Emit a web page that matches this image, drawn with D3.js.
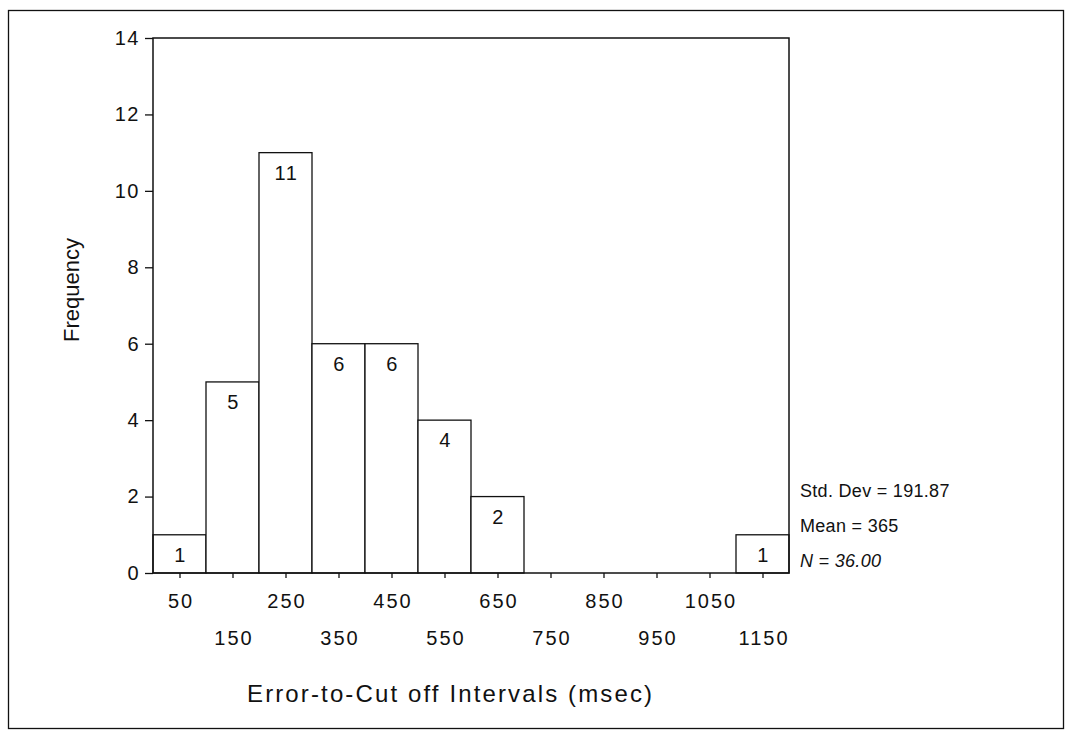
<!DOCTYPE html>
<html>
<head>
<meta charset="utf-8">
<script src="https://cdn.jsdelivr.net/npm/d3@7"></script>
<style>
  body { margin: 0; background: #fff; }
  text { font-family: Arial, "Liberation Sans", sans-serif; fill: #111; }
</style>
</head>
<body>
<div id="chart"></div>
<script>
// Histogram bins (lower edge) and counts
let binStarts = [0, 100, 200, 300, 400, 500, 600, 700, 800, 900, 1000, 1100];
let binWidth = 100;
let counts = [1, 5, 11, 6, 6, 4, 2, 0, 0, 0, 0, 1];
let xTicks = [50, 150, 250, 350, 450, 550, 650, 750, 850, 950, 1050, 1150];
let yTicks = [0, 2, 4, 6, 8, 10, 12, 14];
let statLines = ["Std. Dev = 191.87", "Mean = 365", "N = 36.00"];

let W = 1081, H = 732;
let margin = {top: 38, left: 153},
    width = 636,
    height = 535;

let svg = d3.select('#chart').append('svg')
    .attr('width', W)
    .attr('height', H);

// Outer frame
svg.append('rect')
    .attr('x', 8.5).attr('y', 10.5)
    .attr('width', 1055).attr('height', 718)
    .attr('fill', 'none')
    .attr('stroke', '#111')
    .attr('stroke-width', 1.3);

let g = svg.append('g')
    .attr('transform', 'translate(' + margin.left + ',' + margin.top + ')');

let x = d3.scaleLinear().domain([0, 1200]).range([0, width]);
let y = d3.scaleLinear().domain([0, 14]).range([height, 0]);

// Bars
let bins = binStarts.map(function (s, i) { return {x0: s, x1: s + binWidth, n: counts[i]}; })
    .filter(function (d) { return d.n > 0; });

g.selectAll('.bar')
    .data(bins)
    .enter().append('rect')
    .attr('class', 'bar')
    .attr('x', function (d) { return x(d.x0); })
    .attr('y', function (d) { return y(d.n); })
    .attr('width', function (d) { return x(d.x1) - x(d.x0); })
    .attr('height', function (d) { return height - y(d.n); })
    .attr('fill', '#fff')
    .attr('stroke', '#111')
    .attr('stroke-width', 1.3);

g.selectAll('.barLabel')
    .data(bins)
    .enter().append('text')
    .attr('class', 'barLabel')
    .attr('x', function (d) { return (x(d.x0) + x(d.x1)) / 2 + 1; })
    .attr('y', function (d) { return y(d.n) + 27; })
    .attr('text-anchor', 'middle')
    .attr('font-size', 20)
    .attr('letter-spacing', 1.5)
    .text(function (d) { return d.n; });

// Plot frame
g.append('rect')
    .attr('x', 0).attr('y', 0)
    .attr('width', width).attr('height', height)
    .attr('fill', 'none')
    .attr('stroke', '#111')
    .attr('stroke-width', 1.5);

// Y axis
let yAxis = g.append('g')
    .call(d3.axisLeft(y).tickValues(yTicks).tickSize(8).tickPadding(5));
yAxis.select('.domain').remove();
yAxis.selectAll('line').attr('stroke', '#111').attr('stroke-width', 1.3);
yAxis.selectAll('text')
    .attr('font-size', 20)
    .attr('letter-spacing', 1.5)
    .attr('font-family', 'Arial, "Liberation Sans", sans-serif')
    .attr('fill', '#111');

// X axis with staggered labels
let xAxis = g.append('g')
    .attr('transform', 'translate(0,' + height + ')')
    .call(d3.axisBottom(x).tickValues(xTicks).tickFormat(d3.format('d')).tickSize(5).tickPadding(0));
xAxis.select('.domain').remove();
xAxis.selectAll('line').attr('stroke', '#111').attr('stroke-width', 1.3);
xAxis.selectAll('text')
    .attr('font-size', 20)
    .attr('letter-spacing', 2)
    .attr('font-family', 'Arial, "Liberation Sans", sans-serif')
    .attr('fill', '#111')
    .attr('dx', 1)
    .attr('y', function (d, i) { return i % 2 === 0 ? 35 : 72; })
    .attr('dy', 0);

// Axis titles
svg.append('text')
    .attr('x', 247)
    .attr('y', 702)
    .attr('font-size', 24)
    .attr('textLength', 405)
    .attr('lengthAdjust', 'spacing')
    .text('Error-to-Cut off Intervals (msec)');

svg.append('text')
    .attr('transform', 'translate(79,' + 290 + ') rotate(-90)')
    .attr('text-anchor', 'middle')
    .attr('font-size', 22)
    .text('Frequency');

// Summary statistics
svg.selectAll('.stat')
    .data(statLines)
    .enter().append('text')
    .attr('class', 'stat')
    .attr('x', 800)
    .attr('y', function (d, i) { return 497 + i * 35; })
    .attr('font-size', 18)
    .attr('letter-spacing', 0.3)
    .attr('font-style', function (d, i) { return i === 2 ? 'italic' : 'normal'; })
    .text(function (d) { return d; });
</script>
</body>
</html>
